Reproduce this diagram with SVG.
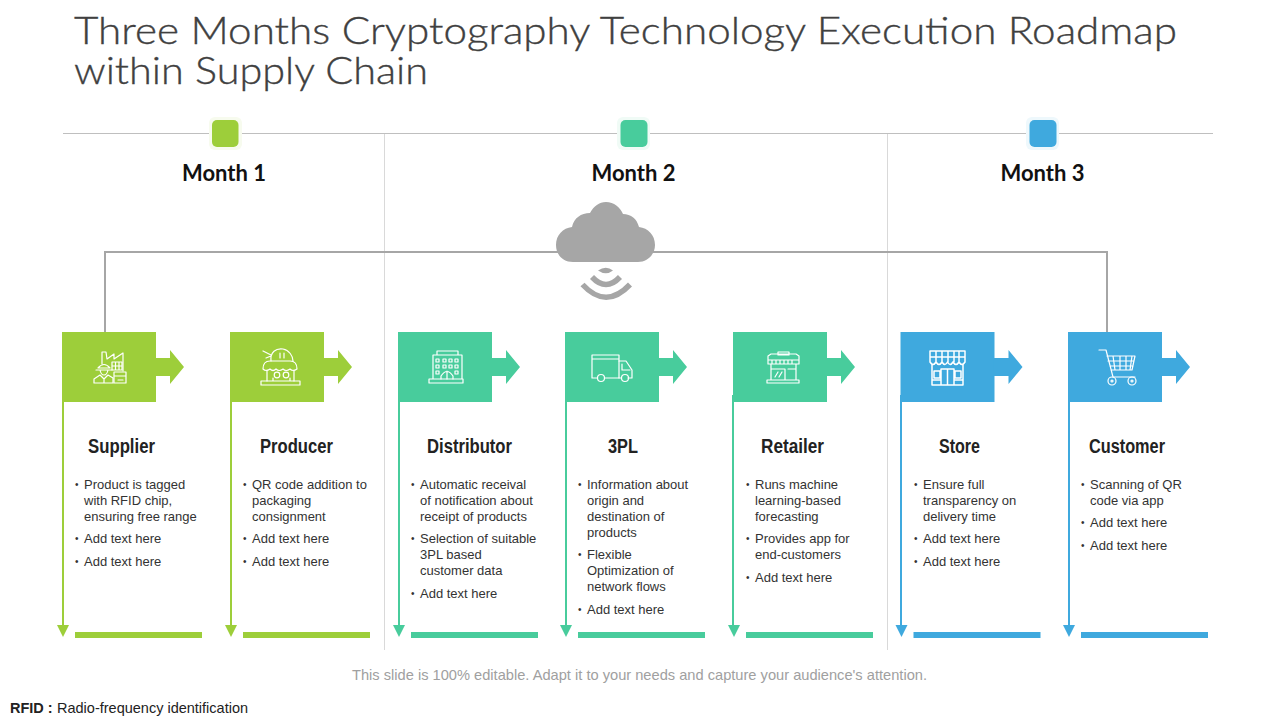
<svg xmlns="http://www.w3.org/2000/svg" xmlns:xlink="http://www.w3.org/1999/xlink" width="1280" height="720" viewBox="0 0 1280 720">
<style>
text{font-family:"Liberation Sans",Arial,sans-serif}
.title{font-family:"Lato","Open Sans",sans-serif;font-size:38px;font-weight:300;fill:#404040;stroke:#404040;stroke-width:.35}
.month{font-family:"Lato","Open Sans",sans-serif;font-size:22px;font-weight:700;fill:#111;text-anchor:middle}
.head{font-size:20px;font-weight:700;fill:#222;text-anchor:middle}
.b{font-size:13px;fill:#333}
.d{font-size:10px}
.ic{fill:none;stroke:#fff;stroke-width:1.2;stroke-linejoin:round;stroke-linecap:round}
.g{fill:#9dce3a}.t{fill:#48cc9c}.u{fill:#3fa9de}
.gs{stroke:#9dce3a}.ts{stroke:#48cc9c}.us{stroke:#3fa9de}
.rule{stroke:#d9d9d9;stroke-width:1;fill:none}
.conn{stroke:#a6a6a6;stroke-width:2;fill:none}
</style>
<defs>
<g id="shape">
<rect x="0" y="0" width="94" height="70"/>
<path d="M93 26H108V18L122 35L108 52V44H93Z"/>
<path d="M-5 293H7L1 305Z"/>
<rect x="13" y="300" width="127" height="6"/>
</g>
</defs>

<text class="title" x="74" y="44" textLength="1103" lengthAdjust="spacingAndGlyphs">Three Months Cryptography Technology Execution Roadmap</text>
<text class="title" x="74" y="84" textLength="354" lengthAdjust="spacingAndGlyphs">within Supply Chain</text>

<g id="timeline">
<path d="M63 133.500H1213" stroke="#bfbfbf" stroke-width="1" fill="none"/>
<path class="rule" d="M384.500 134V650M887.500 134V650"/>
<rect x="209" y="117" width="33" height="33" rx="6" fill="#f7fbee"/>
<rect x="617" y="117" width="33" height="33" rx="6" fill="#f0fbf6"/>
<rect x="1026" y="117" width="33" height="33" rx="6" fill="#eef8fc"/>
</g>
<g id="month-1"><rect class="g" x="212" y="120" width="26.500" height="27" rx="5"/><text class="month" x="224" y="180.500">Month 1</text></g>
<g id="month-2"><rect class="t" x="620.500" y="120" width="27" height="27" rx="5"/><text class="month" x="633.500" y="180.500">Month 2</text></g>
<g id="month-3"><rect class="u" x="1029.500" y="120" width="27" height="27" rx="5"/><text class="month" x="1042.500" y="180.500">Month 3</text></g>

<g id="connectors">
<path class="conn" d="M105 332V252H1107V332"/>
<path class="gs" stroke-width="2" fill="none" d="M63 400V627M231 400V627"/>
<path class="ts" stroke-width="2" fill="none" d="M399 400V627M566 400V627M733 395V627"/>
<path class="us" stroke-width="2" fill="none" d="M901 395V627M1069 400V627"/>
</g>

<g id="cloud" fill="#a6a6a6">
<path d="M573 262C562 262 556 254 556 245C556 235 563 228 572 227C574 218 581 213 590 213C594 206 599 202 606 202C614 202 620 207 623 214C631 214 637 219 639 227C648 228 655 235 655 245C655 254 648 262 638 262Z"/>
<path d="M598 270.500Q606 265 613 270.500Q606 276 598 270.500Z"/>
<path d="M592 277Q606 292 620 277" fill="none" stroke="#a6a6a6" stroke-width="5.500"/>
<path d="M582.500 284.500Q606 310 630 284.500" fill="none" stroke="#a6a6a6" stroke-width="5.500"/>
</g>

<g id="supplier">
<use xlink:href="#shape" href="#shape" class="g" x="62" y="332"/>
<g class="ic"><path d="M102 364V352H106L107 359L114 354V359L123 353V371"/><path d="M112 362H122V370H112ZM115.500 362V370M119 362V370M112 366H122"/><path d="M98 368Q104 361 110 368ZM96 370H112M100 370Q101 375 104 375Q107 375 108 370"/><path d="M94 383V379L100 375L104 379L108 375L113 378V383ZM104 379V383"/><path d="M114 372H126V383H114ZM114 376H126M118 380H123"/></g>
<text class="head" x="121.500" y="452.500" textLength="67" lengthAdjust="spacingAndGlyphs">Supplier</text>
<text class="b"><tspan class="d" x="75" y="488">•</tspan><tspan x="84" y="488.500">Product is tagged</tspan><tspan x="84" y="504.500">with RFID chip,</tspan><tspan x="84" y="521">ensuring free range</tspan><tspan class="d" x="75" y="542">•</tspan><tspan x="84" y="542.500">Add text here</tspan><tspan class="d" x="75" y="565">•</tspan><tspan x="84" y="565.500">Add text here</tspan></text>
</g>

<g id="producer">
<use xlink:href="#shape" href="#shape" class="g" x="230" y="332"/>
<g class="ic"><path d="M271 361C270 352 276 348 283 349C289 350 293 356 293 361M263 351L271 355M266 358L271 356M280 353V358M284 353V358"/><path d="M263 369Q263 361 270 361H290Q297 361 297 369Q293 372 290 369Q286 372 283 369Q279 372 276 369Q273 372 270 369Q266 372 263 369Z"/><path d="M267 370V381M294 370V381"/><circle cx="277" cy="375" r="2.800"/><circle cx="286" cy="375" r="2.800"/><path d="M273 381V378M290 381V378M261 381H300V385H261Z"/></g>
<text class="head" x="296.500" y="452.500" textLength="73" lengthAdjust="spacingAndGlyphs">Producer</text>
<text class="b"><tspan class="d" x="243" y="488">•</tspan><tspan x="252" y="488.500">QR code addition to</tspan><tspan x="252" y="504.500">packaging</tspan><tspan x="252" y="521">consignment</tspan><tspan class="d" x="243" y="542">•</tspan><tspan x="252" y="542.500">Add text here</tspan><tspan class="d" x="243" y="565">•</tspan><tspan x="252" y="565.500">Add text here</tspan></text>
</g>

<g id="distributor">
<use xlink:href="#shape" href="#shape" class="t" x="398" y="332"/>
<g class="ic"><path d="M433 379V355H462V379M437 355V351H458V355M429 379H463V383H429Z"/><path d="M436 359h3v3h-3zM443 359h3v3h-3zM449 359h3v3h-3zM455 359h3v3h-3zM436 365h3v3h-3zM443 365h3v3h-3zM449 365h3v3h-3zM455 365h3v3h-3zM436 371h3v3h-3zM455 371h3v3h-3zM441 379V376Q447 367 453 376V379M447 371V379"/></g>
<text class="head" x="469.500" y="452.500" textLength="85" lengthAdjust="spacingAndGlyphs">Distributor</text>
<text class="b"><tspan class="d" x="411" y="488">•</tspan><tspan x="420" y="488.500">Automatic receival</tspan><tspan x="420" y="504.500">of notification about</tspan><tspan x="420" y="521">receipt of products</tspan><tspan class="d" x="411" y="542">•</tspan><tspan x="420" y="542.500">Selection of suitable</tspan><tspan x="420" y="558.500">3PL based</tspan><tspan x="420" y="574.500">customer data</tspan><tspan class="d" x="411" y="597">•</tspan><tspan x="420" y="597.500">Add text here</tspan></text>
</g>

<g id="tpl">
<use xlink:href="#shape" href="#shape" class="t" x="565" y="332"/>
<g class="ic"><path d="M592 355H619V378H605M592 355V378H597M592 359H619"/><path d="M619 361H626L632 370V378H628M619 378H621M622 364V370H630"/><circle cx="601" cy="378" r="3.500"/><circle cx="625" cy="378" r="3.500"/></g>
<text class="head" x="623" y="452.500" textLength="30" lengthAdjust="spacingAndGlyphs">3PL</text>
<text class="b"><tspan class="d" x="578" y="488">•</tspan><tspan x="587" y="488.500">Information about</tspan><tspan x="587" y="504.500">origin and</tspan><tspan x="587" y="521">destination of</tspan><tspan x="587" y="537">products</tspan><tspan class="d" x="578" y="558">•</tspan><tspan x="587" y="558.500">Flexible</tspan><tspan x="587" y="574.500">Optimization of</tspan><tspan x="587" y="590.500">network flows</tspan><tspan class="d" x="578" y="613">•</tspan><tspan x="587" y="613.500">Add text here</tspan></text>
</g>

<g id="retailer">
<use xlink:href="#shape" href="#shape" class="t" x="733" y="332"/>
<g class="ic"><path d="M768 356L771 354H796L799 356V364H768ZM778 352H789V355H778ZM771 364V380M796 364V380M767 380H799V383H767ZM771 369H785V380H771ZM788 369H796V380M775 377L778 372M779 377L782 372M768 360H799M772 360V364M776 360V364M780 360V364M784 360V364M788 360V364M792 360V364"/></g>
<text class="head" x="792.500" y="452.500" textLength="63" lengthAdjust="spacingAndGlyphs">Retailer</text>
<text class="b"><tspan class="d" x="746" y="488">•</tspan><tspan x="755" y="488.500">Runs machine</tspan><tspan x="755" y="504.500">learning-based</tspan><tspan x="755" y="521">forecasting</tspan><tspan class="d" x="746" y="542">•</tspan><tspan x="755" y="542.500">Provides app for</tspan><tspan x="755" y="558.500">end-customers</tspan><tspan class="d" x="746" y="581">•</tspan><tspan x="755" y="581.500">Add text here</tspan></text>
</g>

<g id="store">
<use xlink:href="#shape" href="#shape" class="u" x="900.500" y="332"/>
<g class="ic" style="stroke-width:1.500"><path d="M930 351H965V362Q962 367 959 362Q956 367 953 362Q950 367 947.500 362Q945 367 942 362Q939 367 936 362Q933 367 930 362ZM930 357H965M936 351V362M942 351V362M948 351V362M954 351V362M959 351V362M932 365V385H963V365M941 385V369H954V385M947.500 369V385M932 380H941M954 380H963M934 371H940V378H934ZM955 371H961V378H955Z"/></g>
<text class="head" x="959.500" y="452.500" textLength="41" lengthAdjust="spacingAndGlyphs">Store</text>
<text class="b"><tspan class="d" x="914" y="488">•</tspan><tspan x="923" y="488.500">Ensure full</tspan><tspan x="923" y="504.500">transparency on</tspan><tspan x="923" y="521">delivery time</tspan><tspan class="d" x="914" y="542">•</tspan><tspan x="923" y="542.500">Add text here</tspan><tspan class="d" x="914" y="565">•</tspan><tspan x="923" y="565.500">Add text here</tspan></text>
</g>

<g id="customer">
<use xlink:href="#shape" href="#shape" class="u" x="1068" y="332"/>
<g class="ic"><path d="M1099 350H1106L1113 377H1135M1107 356H1135L1132 370H1111M1108 361H1134M1110 366H1133M1113 356L1115 370M1120 356V370M1126 356V370M1132 356L1130 370"/><circle cx="1112" cy="381" r="4"/><circle cx="1132" cy="381" r="4"/><circle cx="1112" cy="381" r="1"/><circle cx="1132" cy="381" r="1"/></g>
<text class="head" x="1127" y="452.500" textLength="76" lengthAdjust="spacingAndGlyphs">Customer</text>
<text class="b"><tspan class="d" x="1081" y="488">•</tspan><tspan x="1090" y="488.500">Scanning of QR</tspan><tspan x="1090" y="504.500">code via app</tspan><tspan class="d" x="1081" y="526">•</tspan><tspan x="1090" y="526.500">Add text here</tspan><tspan class="d" x="1081" y="549">•</tspan><tspan x="1090" y="549.500">Add text here</tspan></text>
</g>

<text x="352" y="679.500" font-size="14.400" fill="#a0a0a0" textLength="575" lengthAdjust="spacingAndGlyphs">This slide is 100% editable. Adapt it to your needs and capture your audience's attention.</text>
<text y="712.500" font-size="14.500" fill="#222"><tspan x="10" font-weight="700">RFID :</tspan><tspan x="57">Radio-frequency identification</tspan></text>
</svg>
